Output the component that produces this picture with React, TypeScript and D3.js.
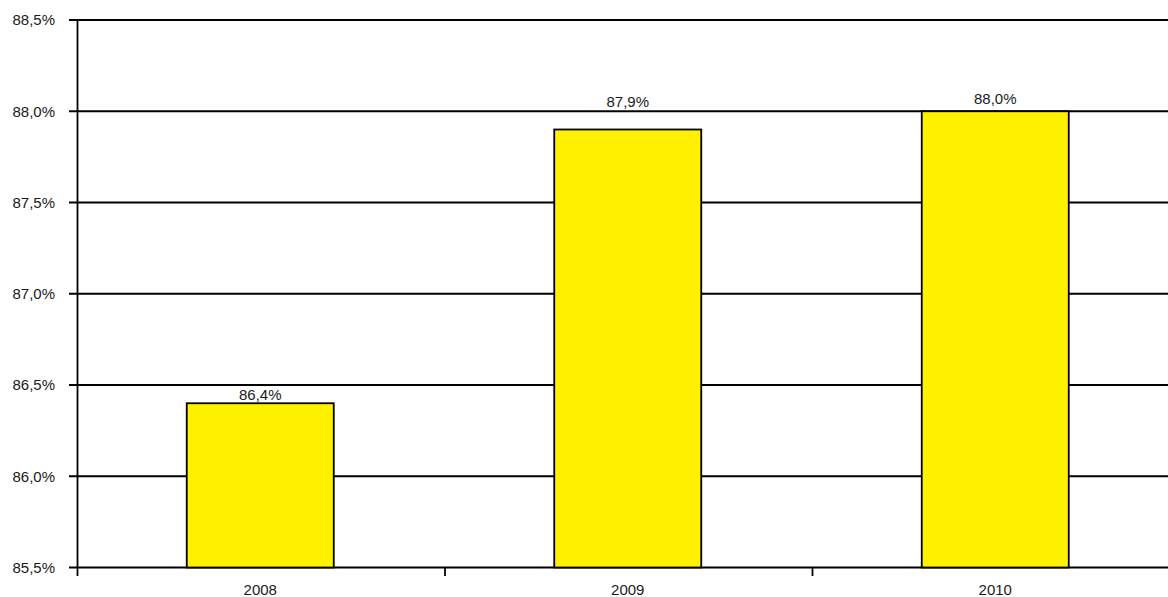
import React from "react";
import * as d3 from "d3";

// Share of the year's value, in percent
const years = ["2008", "2009", "2010"];
const shares = [86.4, 87.9, 88.0];
const yTicks = [85.5, 86.0, 86.5, 87.0, 87.5, 88.0, 88.5];

// How far each value label sits above its bar (px)
const labelLift = [3, 23, 7];

const W = 1168;
const H = 597;
const margin = { left: 77.5, top: 20, bottom: 29.5 };
const bandW = 367.5;
const FONT = "'Liberation Sans', Arial, sans-serif";
const fmt = (v: number) => v.toFixed(1).replace(".", ",") + "%";

export default function App() {
  const x = d3
    .scaleBand<string>()
    .domain(years)
    .range([margin.left - 1, margin.left - 1 + bandW * years.length])
    .paddingInner(0)
    .paddingOuter(0);
  const y = d3
    .scaleLinear()
    .domain([85.5, 88.5])
    .range([H - margin.bottom, margin.top]);

  const barW = x.bandwidth() * 0.4;
  const y0 = y(85.5);
  const stroke = "#000";
  const sw = 1.8;

  return (
    <svg
      width={W}
      height={H}
      style={{ position: "absolute", left: 0, top: 0, background: "#fff" }}
      fontFamily={FONT}
      fontSize={15}
    >
      {/* horizontal gridlines with their left ticks */}
      {yTicks.map((t) => (
        <g key={t}>
          <line x1={69} x2={W + 20} y1={y(t)} y2={y(t)} stroke={stroke} strokeWidth={sw} />
          <text x={55} y={y(t) + 5.3} textAnchor="end" fill="#1a1a1a">
            {fmt(t)}
          </text>
        </g>
      ))}

      {/* bars */}
      {years.map((yr, i) => {
        const cx = (x(yr) as number) + x.bandwidth() / 2;
        const top = y(shares[i]);
        return (
          <g key={yr}>
            <rect
              x={cx - barW / 2}
              y={top}
              width={barW}
              height={y0 - top}
              fill="#FFF100"
              stroke={stroke}
              strokeWidth={sw}
            />
            <text x={cx} y={top - labelLift[i]} textAnchor="middle" fill="#1a1a1a">
              {fmt(shares[i])}
            </text>
            <text x={cx} y={595} textAnchor="middle" fill="#1a1a1a">
              {yr}
            </text>
          </g>
        );
      })}

      {/* value axis */}
      <line x1={margin.left} x2={margin.left} y1={margin.top} y2={y0 + 8.5} stroke={stroke} strokeWidth={sw} />

      {/* category ticks between bands */}
      {years.slice(1).map((yr) => (
        <line
          key={yr}
          x1={(x(yr) as number) + 1}
          x2={(x(yr) as number) + 1}
          y1={y0}
          y2={y0 + 8.5}
          stroke={stroke}
          strokeWidth={sw}
        />
      ))}
    </svg>
  );
}
